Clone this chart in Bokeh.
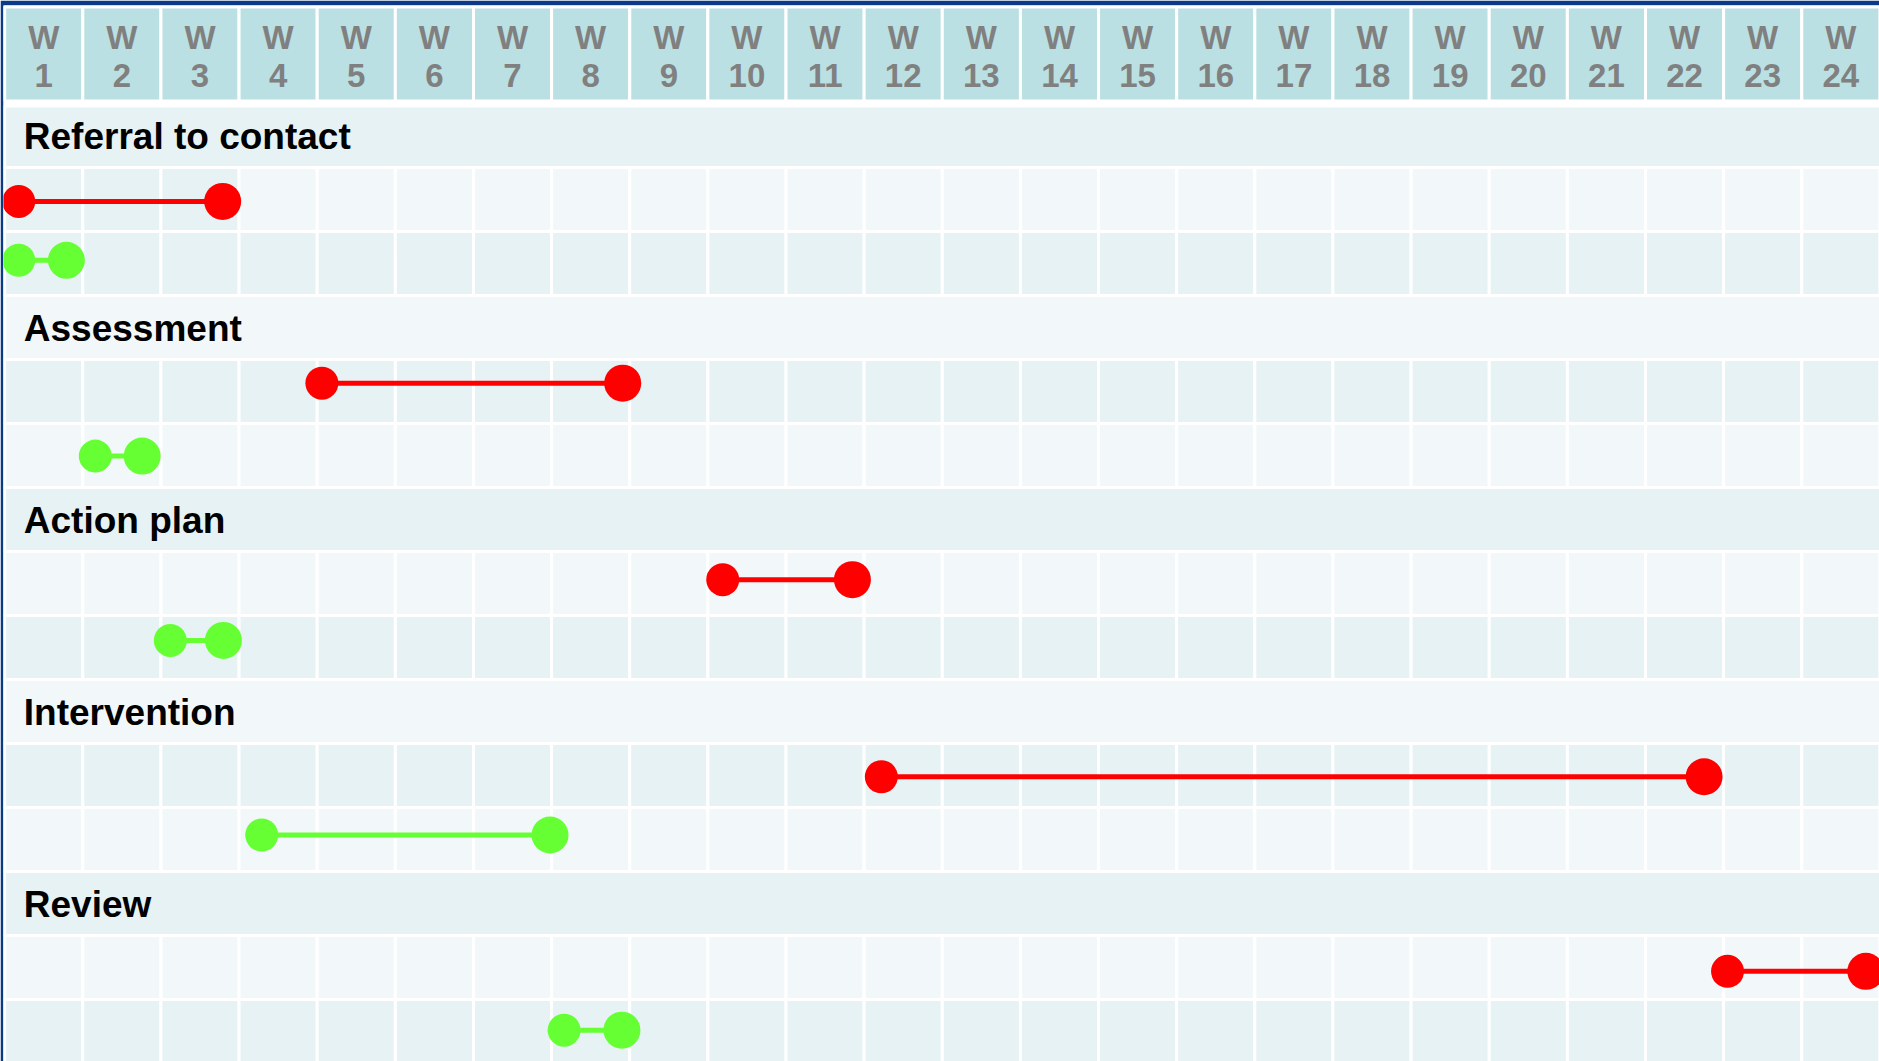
from bokeh.plotting import figure
from bokeh.models import Range1d, ColumnDataSource
from bokeh.embed import file_html
from bokeh.resources import INLINE
from bokeh.core.properties import value

# ---------------- data ----------------
weeks = list(range(1, 25))
week_top = ["W"] * 24
week_num = [str(w) for w in weeks]
stages = ["Referral to contact", "Assessment", "Action plan", "Intervention", "Review"]

# red series (weeks)
red_start = [0.18, 4.06, 9.19, 11.22, 22.05]
red_end = [2.79, 7.91, 10.85, 21.75, 23.82]
red_row = [1.53, 4.37, 7.44, 10.52, 13.56]

# green series (weeks)
green_start = [0.18, 1.16, 2.12, 3.29, 7.16]
green_end = [0.79, 1.76, 2.80, 6.98, 7.90]
green_row = [2.45, 5.51, 8.39, 11.43, 14.48]

# cells shaded darker in the first red row (week columns)
highlight_band = 1
highlight_weeks = [1, 2, 3]

# ---------------- styles ----------------
HEAD_FILL = "#BBE0E3"
DARK = "#E6F2F4"
LIGHT = "#F2F8FA"
RED = "#FF0000"
GREEN = "#66FF33"
FRAME = "#0B3A88"
FONT = value("Liberation Sans")

p = figure(width=1879, height=1061,
           x_range=Range1d(-0.0149, 23.995), y_range=Range1d(14.969, -1.531),
           output_backend="svg", toolbar_location=None,
           x_axis_location=None, y_axis_location=None,
           min_border_left=3, min_border_top=5, min_border_right=0, min_border_bottom=0,
           outline_line_color=None,
           background_fill_color="white", border_fill_color=FRAME)
p.grid.visible = False

# header cells
hs = ColumnDataSource(dict(left=[w - 1 for w in weeks], right=weeks,
                           top=[-1.508] * 24, bottom=[-0.039] * 24))
p.quad(left="left", right="right", top="top", bottom="bottom", source=hs,
       fill_color=HEAD_FILL, line_color="white", line_width=3)

# body bands
L, R, T, B, C = [], [], [], [], []
nb = len(stages) * 3
for k in range(nb):
    top = 0.039 if k == 0 else k
    col = DARK if k % 2 == 0 else LIGHT
    if k % 3 == 0:
        L.append(0.0); R.append(26); T.append(top); B.append(k + 1); C.append(col)
    else:
        for w in weeks:
            c = col
            if k == highlight_band and w in highlight_weeks:
                c = DARK
            L.append(w - 1); R.append(w); T.append(top); B.append(k + 1); C.append(c)
bs = ColumnDataSource(dict(left=L, right=R, top=T, bottom=B, color=C))
p.quad(left="left", right="right", top="top", bottom="bottom", source=bs,
       fill_color="color", line_color="white", line_width=3)

# header texts
tx = [w - 0.5 for w in weeks]
p.text(x=tx, y=[-1.036] * 24, text=week_top, text_align="center", text_baseline="middle",
       text_font=FONT, text_font_style="bold", text_font_size="33px", text_color="#808080")
p.text(x=tx, y=[-0.442] * 24, text=week_num, text_align="center", text_baseline="middle",
       text_font=FONT, text_font_style="bold", text_font_size="33px", text_color="#808080")

# stage labels
p.text(x=[0.245] * len(stages), y=[3 * i + 0.52 for i in range(len(stages))], text=stages,
       text_align="left", text_baseline="middle",
       text_font=FONT, text_font_style="bold", text_font_size="37px", text_color="black")

# dumbbells
for s, e, r, col in [(red_start, red_end, red_row, RED), (green_start, green_end, green_row, GREEN)]:
    src = ColumnDataSource(dict(s=s, e=e, y=r))
    p.segment(x0="s", y0="y", x1="e", y1="y", source=src, line_color=col, line_width=5)
    p.scatter(x="s", y="y", source=src, size=33, marker="circle", fill_color=col, line_color=None)
    p.scatter(x="e", y="y", source=src, size=37, marker="circle", fill_color=col, line_color=None)

open("out.html", "w").write(file_html(p, INLINE))
